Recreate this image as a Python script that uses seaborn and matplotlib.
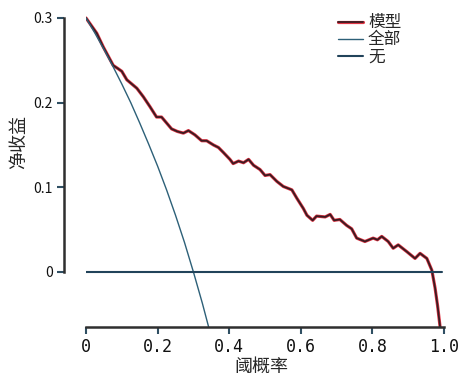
import numpy as np
import pandas as pd
import matplotlib
matplotlib.use("Agg")
import matplotlib.pyplot as plt
import matplotlib.patheffects as pe
import seaborn as sns

# decision curve values
model_thr = [0.000, 0.015, 0.030, 0.048, 0.062, 0.076, 0.090, 0.100, 0.114, 0.128,
             0.142, 0.160, 0.179, 0.197, 0.211, 0.225, 0.239, 0.255, 0.272, 0.286,
             0.304, 0.323, 0.337, 0.356, 0.370, 0.384, 0.402, 0.411, 0.426, 0.440,
             0.454, 0.468, 0.486, 0.500, 0.514, 0.533, 0.551, 0.575, 0.589, 0.607,
             0.617, 0.633, 0.644, 0.668, 0.682, 0.693, 0.709, 0.728, 0.742, 0.756,
             0.779, 0.802, 0.814, 0.826, 0.844, 0.858, 0.872, 0.896, 0.919, 0.933,
             0.952, 0.966, 0.975, 0.982, 0.989]
model_nb = [0.300, 0.291, 0.282, 0.266, 0.255, 0.244, 0.240, 0.237, 0.227, 0.222,
            0.217, 0.207, 0.195, 0.183, 0.183, 0.176, 0.169, 0.166, 0.164, 0.167,
            0.162, 0.155, 0.155, 0.150, 0.147, 0.141, 0.133, 0.128, 0.131, 0.129,
            0.133, 0.126, 0.121, 0.114, 0.115, 0.107, 0.101, 0.097, 0.087, 0.075,
            0.067, 0.061, 0.066, 0.065, 0.068, 0.061, 0.062, 0.055, 0.051, 0.040,
            0.036, 0.040, 0.038, 0.042, 0.036, 0.028, 0.032, 0.024, 0.016, 0.022,
            0.016, 0.002, -0.019, -0.040, -0.065]

all_thr = [0.00, 0.025, 0.05, 0.075, 0.10, 0.125, 0.15, 0.175, 0.20, 0.225,
           0.25, 0.275, 0.30, 0.325, 0.35]
all_nb = [0.300, 0.282, 0.263, 0.243, 0.222, 0.200, 0.176, 0.151, 0.125, 0.097,
          0.067, 0.035, 0.000, -0.037, -0.077]

none_thr = [0.0, 0.995]
none_nb = [0.0, 0.0]

x_ticks = [0, 0.2, 0.4, 0.6, 0.8, 1.0]
x_labels = ["0", "0.2", "0.4", "0.6", "0.8", "1.0"]
y_ticks = [0, 0.1, 0.2, 0.3]
y_labels = ["0", "0.1", "0.2", "0.3"]

sns.set_style("ticks")
plt.rcParams["font.family"] = ["Noto Sans CJK SC", "DejaVu Sans"]

fig = plt.figure(figsize=(4.58, 3.79), dpi=100)
ax = fig.add_axes([0.1878, 0.1372, 0.7817, 0.8198])

sns.lineplot(x=model_thr, y=model_nb, ax=ax, color="#3a1c22", linewidth=1.3,
             label="模型", sort=False)
ax.lines[-1].set_path_effects([pe.Stroke(linewidth=2.3, foreground="#e03545"), pe.Normal()])
sns.lineplot(x=all_thr, y=all_nb, ax=ax, color="#2d6078", linewidth=1.0,
             label="全部", sort=False)
sns.lineplot(x=none_thr, y=none_nb, ax=ax, color="#21435a", linewidth=1.5,
             label="无", sort=False)

ax.set_xlim(0, 1.0)
ax.set_ylim(-0.065, 0.302)
ax.set_xticks(x_ticks)
ax.set_xticklabels(x_labels, fontsize=12, family="DejaVu Sans Mono")
ax.set_yticks(y_ticks)
ax.set_yticklabels(y_labels, fontsize=12, family="DejaVu Sans Mono")

for s in ["top", "right"]:
    ax.spines[s].set_visible(False)
ax.spines["left"].set_position(("outward", 16))
ax.spines["left"].set_bounds(0, 0.3)
for s in ["left", "bottom"]:
    ax.spines[s].set_linewidth(1.8)
    ax.spines[s].set_color("#2f2f2f")
ax.tick_params(direction="out", length=5, width=1.5, color="#2f4f63",
               labelcolor="#111111", pad=3)

ax.set_xlabel("阈概率", fontsize=13)
ax.set_ylabel("净收益", fontsize=13)
ax.yaxis.set_label_coords(-0.163, 0.595)
ax.xaxis.set_label_coords(0.49, -0.10)

ax.legend(loc="upper left", bbox_to_anchor=(0.738, 0.962), bbox_transform=fig.transFigure,
          frameon=False, fontsize=12, labelspacing=0.0, handlelength=1.5,
          handletextpad=0.3, borderpad=0, borderaxespad=0)

fig.savefig("out.png", dpi=100)
